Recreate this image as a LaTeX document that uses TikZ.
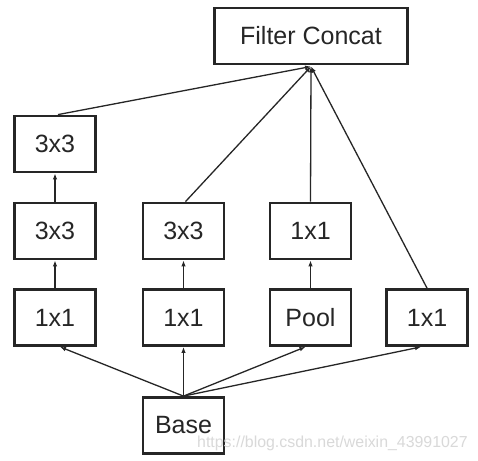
\documentclass[tikz,border=0pt]{standalone}
\usepackage{fontspec}
\setmainfont{Liberation Sans}
\usetikzlibrary{arrows.meta}
\begin{document}
\begin{tikzpicture}[x=1pt,y=-1pt,
  box/.style={draw=black!85, line width=2.8pt, minimum width=81pt, minimum height=56pt, inner sep=0pt, font=\fontsize{25}{28}\selectfont, text=black!85},
  conn/.style={draw=black!85, line width=1.3pt, -{Latex[length=6pt,width=4.5pt]}}]
\useasboundingbox[fill=white] (0,0) rectangle (478,460);
\node[box, minimum width=193pt] (fc) at (311,36) {Filter Concat};
\node[box] (a1) at (55,144) {3x3};
\node[box] (a2) at (55,231) {3x3};
\node[box] (a3) at (55,317.5) {1x1};
\node[box] (b2) at (183.5,231) {3x3};
\node[box] (b3) at (183.5,317.5) {1x1};
\node[box] (c2) at (310.5,231) {1x1};
\node[box] (c3) at (310.5,317.5) {Pool};
\node[box] (d3) at (427,317.5) {1x1};
\node[box] (base) at (183.5,425.5) {Base};
\coordinate (ct) at (311,66.5);
\draw[conn] ([xshift=3pt]a1.north) -- (ct);
\draw[conn] ([xshift=2pt]b2.north) -- (ct);
\draw[conn] (c2.north) -- (ct);
\draw[conn] (d3.north) -- (ct);
\draw[conn] (a2.north) -- (a1.south);
\draw[conn] (a3.north) -- (a2.south);
\draw[conn] (b3.north) -- (b2.south);
\draw[conn] (c3.north) -- (c2.south);
\draw[conn] (base.north) -- ([xshift=5pt]a3.south);
\draw[conn] (base.north) -- (b3.south);
\draw[conn] (base.north) -- ([xshift=-5pt]c3.south);
\draw[conn] (base.north) -- ([xshift=-6pt]d3.south);
\node[anchor=base west, inner sep=0pt, text=black!15, font=\fontsize{15.9}{18}\selectfont] (wm) at (197,447) {https://blog.csdn.net/weixin\_43991027};
\end{tikzpicture}
\end{document}
